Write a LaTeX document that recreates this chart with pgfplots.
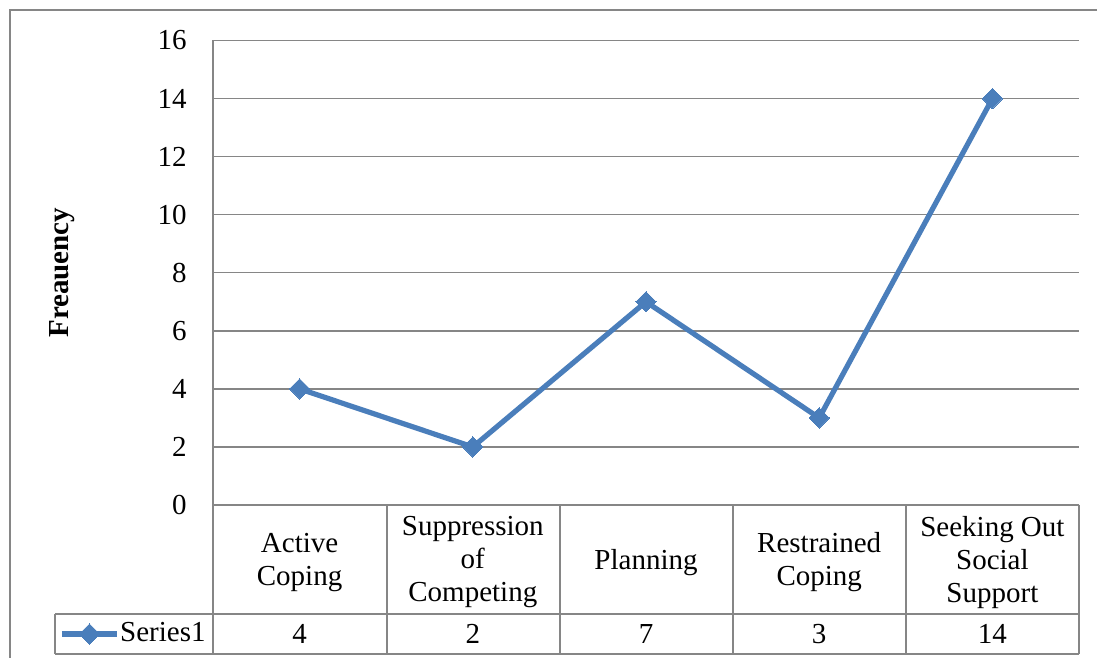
\documentclass[border=0pt]{standalone}
\usepackage{fontspec}
\setmainfont{Liberation Serif}
\usepackage{pgfplots}
\pgfplotsset{compat=1.18}
\definecolor{serieblue}{HTML}{4A7EBB}
\definecolor{gridgray}{HTML}{868686}
\begin{document}
\fontsize{14.5}{16.5}\selectfont
\begin{tikzpicture}[x=0.5pt,y=0.5pt]
\useasboundingbox (0,0) rectangle (1097,658);
% outer chart border
\draw[gridgray, line width=0.75pt] (10,0) -- (10,648) -- (1097,648);
\begin{axis}[
  at={(106.5pt,76.5pt)}, anchor=south west,
  scale only axis, width=433pt, height=232.25pt,
  xmin=-0.5, xmax=4.5, ymin=0, ymax=16,
  ytick={0,2,...,16},
  xtick={0,1,2,3,4},
  xticklabels={{Active\\Coping},{Suppression\\of\\Competing},Planning,{Restrained\\Coping},{Seeking Out\\Social\\Support}},
  major tick length=0pt,
  axis line style={draw=none},
  ymajorgrids, major grid style={gridgray, line width=0.75pt},
  /pgf/number format/assume math mode=true,
  ticklabel style={font=\fontsize{14.5}{16.5}\selectfont},
  xticklabel style={align=center, anchor=center, yshift=-28.75pt},
  yticklabel style={anchor=east, inner sep=0pt, xshift=-13pt},
  every axis y label/.style={at={(axis description cs:0,0.5)}, rotate=90, anchor=center, yshift=75.5pt},
  ylabel={\textbf{Freauency}},
  clip=false,
  legend style={at={(axis description cs:0,0)}, anchor=west, xshift=-77pt, yshift=-64.5pt,
    draw=none, fill=none, inner sep=0pt, nodes={inner sep=0.3pt}},
  legend image code/.code={\draw[mark repeat=2,mark phase=2,#1] plot coordinates {(0pt,0pt)(13.75pt,0pt)(27.5pt,0pt)};},
]
\addplot[serieblue, line width=2.6pt, mark=square*, mark size=3.6pt,
  mark options={rotate=45, line width=0pt}] coordinates {
  (0,4) (1,2) (2,7) (3,3) (4,14)
};
\addlegendentry{Series1}
\node[yshift=-64.5pt] at (axis cs:0,0) {4};
\node[yshift=-64.5pt] at (axis cs:1,0) {2};
\node[yshift=-64.5pt] at (axis cs:2,0) {7};
\node[yshift=-64.5pt] at (axis cs:3,0) {3};
\node[yshift=-64.5pt] at (axis cs:4,0) {14};
\end{axis}
% left axis line and data table grid
\draw[gridgray, line width=0.75pt] (213,617.5) -- (213,4);
\draw[gridgray, line width=0.75pt] (213,153) -- (1079,153);
\draw[gridgray, line width=0.75pt] (55,44) -- (1079,44);
\draw[gridgray, line width=0.75pt] (55,4) -- (1079,4);
\draw[gridgray, line width=0.75pt] (55,44) -- (55,4);
\foreach \xx in {387,560,733,906,1079}
  \draw[gridgray, line width=0.75pt] (\xx,153) -- (\xx,4);
\end{tikzpicture}
\end{document}
